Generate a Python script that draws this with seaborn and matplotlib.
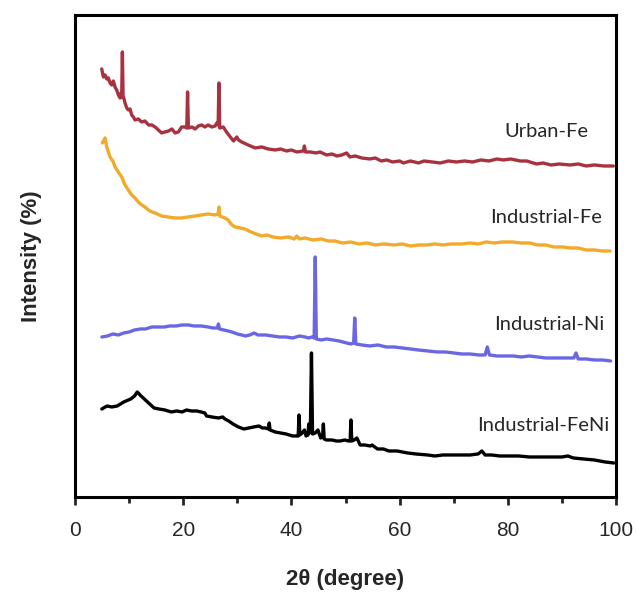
import seaborn as sns
import matplotlib.pyplot as plt

# XRD patterns, intensity in arbitrary offset units
x_urban_fe = [4.93, 5.24, 5.55, 5.85, 6.16, 6.47, 6.78, 7.08, 7.39, 7.70, 8.01, 8.32, 8.5, 8.62, 8.75, 8.88, 9.0,
              9.24, 9.55, 9.86, 10.17, 10.47, 10.78, 11.09, 11.7, 12.3, 12.9, 13.6, 14.2, 14.8, 15.4,
              16.0, 16.6, 17.3, 17.9, 18.5, 19.1, 19.7, 20.3, 20.65, 20.8, 20.95, 21.6, 22.2, 22.8, 23.4, 24.0,
              24.6, 25.3, 25.9, 26.2, 26.45, 26.6, 26.75, 27.4, 28.0, 28.7, 29.3, 29.9, 30.2, 30.8, 32.0, 33.3,
              34.5, 35.7, 37.0, 38.0, 39.1, 40.0, 41.0, 42.2, 42.4, 42.6, 43.5, 44.5, 45.3, 46.5, 47.5, 48.4,
              49.3, 50.2, 50.8, 51.8, 53.0, 54.5, 55.5, 56.6, 57.6, 58.7, 60.0, 60.7, 62.0, 63.5, 64.5, 66.0,
              67.5, 69.0, 70.5, 72.0, 73.5, 75.0, 76.5, 78.0, 79.2, 80.5, 82.3, 83.5, 85.3, 86.5, 88.0, 89.5,
              91.5, 93.0, 94.5, 96.0, 97.7, 99.5]
y_urban_fe = [428, 420, 422, 418, 419, 414, 412, 416, 410, 407, 402, 399, 404, 400, 445, 400, 399,
              394, 389, 387, 388, 382, 380, 377, 378, 375, 376, 372, 372, 370, 367,
              364, 365, 366, 368, 364, 365, 370, 370, 369, 405, 369, 370, 368, 371, 372, 370,
              372, 370, 371, 374, 372, 414, 369, 370, 365, 360, 356, 360, 357, 355, 352, 349,
              350, 348, 347, 348, 346, 347, 345, 346, 351, 345, 345, 344, 345, 342, 343, 341,
              342, 344, 340, 341, 339, 338, 339, 336, 337, 335, 336, 334, 336, 334, 336, 335,
              334, 336, 335, 336, 335, 337, 336, 338, 337, 338, 336, 336, 333, 334, 332, 333,
              332, 333, 331, 332, 331, 331]

x_industrial_fe = [5.05, 5.55, 5.86, 6.47, 7.08, 7.39, 8.0, 8.63, 9.24, 9.85, 10.48, 11.09, 11.7, 12.33,
                   12.94, 13.55, 14.18, 14.79, 16.0, 17.2, 18.5, 19.7, 20.9, 22.2, 23.4, 24.6, 25.9,
                   26.45, 26.6, 26.75, 27.7, 28.3, 29.0, 29.6, 31.4, 32.5, 33.5, 34.5, 35.5, 36.5, 38.0,
                   39.5, 40.5, 41.0, 41.5, 42.5, 44.0, 45.5, 46.8, 48.0, 49.5, 51.0, 52.5, 54.0, 55.5,
                   57.0, 59.1, 60.5, 62.0, 63.5, 65.0, 66.5, 68.0, 69.5, 71.5, 73.0, 74.5, 76.0, 77.5,
                   79.0, 80.8, 82.5, 84.0, 85.5, 87.0, 88.5, 90.2, 91.5, 93.0, 94.5, 96.0, 97.5, 98.9]
y_industrial_fe = [354, 359, 350, 340, 335, 330, 325, 320, 312, 307, 302, 299, 295, 292,
                   290, 287, 285, 284, 281, 280, 279, 279, 280, 281, 282, 283, 282,
                   283, 290, 281, 279, 277, 272, 270, 268, 265, 263, 261, 262, 260, 259,
                   260, 258, 261, 258, 259, 257, 258, 256, 256, 254, 255, 253, 254, 252,
                   253, 252, 253, 251, 252, 252, 253, 252, 253, 253, 254, 253, 255, 254,
                   255, 255, 254, 254, 252, 252, 250, 250, 249, 249, 247, 247, 246, 246]

x_industrial_ni = [4.96, 6.0, 7.0, 8.0, 9.0, 10.0, 11.0, 12.1, 13.0, 14.2, 15.3, 16.5, 17.5, 18.7, 19.8,
                   20.9, 22.0, 23.3, 24.6, 25.5, 26.3, 26.5, 26.7, 27.5, 28.3, 29.0, 30.0, 30.8, 31.5,
                   32.3, 33.1, 33.8, 35.2, 36.5, 37.8, 39.0, 40.2, 41.5, 42.5, 43.2, 43.8, 44.2, 44.4,
                   44.6, 45.5, 46.5, 47.7, 48.8, 50.2, 51.0, 51.5, 51.7, 51.9, 53.0, 54.5, 56.0, 57.5,
                   59.0, 60.5, 62.0, 63.5, 65.2, 67.0, 68.5, 70.0, 71.5, 73.0, 74.6, 75.8, 76.2, 76.6,
                   78.0, 79.5, 81.0, 82.5, 84.0, 85.5, 87.0, 88.5, 90.0, 91.4, 92.2, 92.6, 93.0, 94.5,
                   96.0, 97.5, 99.0]
y_industrial_ni = [160, 161, 163, 162, 164, 165, 167, 168, 168, 170, 170, 170, 171, 171, 172,
                   172, 171, 171, 170, 169, 169, 173, 168, 167, 166, 165, 163, 162, 161,
                   162, 164, 162, 162, 161, 160, 160, 159, 161, 160, 159, 160, 159, 240,
                   158, 157, 158, 157, 156, 154, 153, 154, 179, 153, 152, 151, 152, 150,
                   150, 149, 148, 147, 146, 145, 145, 144, 143, 143, 142, 142, 150, 142,
                   141, 141, 141, 140, 141, 140, 139, 139, 139, 139, 139, 144, 138, 138,
                   137, 137, 136]

x_industrial_feni = [4.95, 5.9, 6.8, 7.8, 9.0, 10.3, 11.0, 11.5, 12.2, 12.8, 13.6, 14.6, 15.5, 16.6,
                     17.8, 18.8, 19.8, 20.6, 21.5, 22.5, 23.3, 24.0, 24.3, 25.3, 26.5, 27.3, 27.7,
                     28.4, 29.2, 30.2, 31.2, 32.1, 33.0, 34.0, 34.6, 35.2, 35.75, 35.9, 36.05, 37.0,
                     38.0, 39.0, 40.2, 40.9, 41.25, 41.4, 41.55, 42.0, 42.4, 42.7, 43.05, 43.2, 43.35,
                     43.5, 43.7, 43.9, 44.4, 44.9, 45.4, 45.75, 45.9, 46.05, 46.5, 47.5, 48.3, 49.0,
                     49.9, 50.5, 50.85, 51.0, 51.15, 51.6, 52.1, 52.7, 53.5, 54.6, 54.9, 55.9, 57.0,
                     58.0, 59.5, 61.5, 63.0, 65.2, 66.5, 68.0, 70.0, 71.5, 73.0, 74.5, 75.2, 75.8,
                     77.0, 78.5, 80.0, 82.0, 84.0, 86.0, 88.0, 90.0, 91.1, 92.1, 94.0, 96.0, 98.0, 99.6]
y_industrial_feni = [88, 91, 90, 91, 95, 98, 101, 105, 101, 98, 94, 89, 88, 87,
                     85, 86, 85, 87, 86, 86, 85, 84, 81, 80, 79, 80, 78,
                     76, 73, 70, 68, 69, 70, 71, 69, 69, 68, 74, 67, 65,
                     64, 63, 61, 61, 61, 82, 62, 64, 67, 61, 62, 73, 64,
                     66, 144, 63, 64, 67, 59, 60, 73, 58, 57, 57, 56, 56,
                     57, 56, 56, 77, 56, 57, 59, 52, 52, 51, 52, 48, 48,
                     46, 46, 44, 43, 42, 41, 42, 42, 42, 42, 43, 46, 42,
                     42, 41, 41, 41, 40, 40, 40, 40, 41, 39, 38, 37, 35, 34]

series = [
    ("Urban-Fe", x_urban_fe, y_urban_fe, "#a8323f", (87.1, 365)),
    ("Industrial-Fe", x_industrial_fe, y_industrial_fe, "#f1aa2a", (87.0, 279)),
    ("Industrial-Ni", x_industrial_ni, y_industrial_ni, "#6a67e2", (87.6, 172)),
    ("Industrial-FeNi", x_industrial_feni, y_industrial_feni, "#000000", (86.5, 71)),
]

sns.set_style("ticks")
plt.rcParams['font.family'] = ['Liberation Sans', 'DejaVu Sans']

fig = plt.figure(figsize=(6.36, 5.92), dpi=100)
ax = fig.add_axes([0.118, 0.1605, 0.8506, 0.8142])

for name, xs, ys, col, (tx, ty) in series:
    sns.lineplot(x=xs, y=ys, color=col, linewidth=2.4, ax=ax)
    ax.text(tx, ty, name, ha='center', va='center', fontsize=14.5, family='Lato')

ax.set_xlim(0, 100)
ax.set_ylim(0, 482)
ax.set_xticks(range(0, 101, 20))
ax.set_xticks(range(10, 100, 20), minor=True)
ax.set_yticks([])
ax.tick_params(axis='x', which='major', length=6, width=2, labelsize=15, direction='out', pad=11)
ax.tick_params(axis='x', which='minor', length=4, width=2, direction='out')
for s in ax.spines.values():
    s.set_linewidth(2.2)
    s.set_color('black')

ax.set_xlabel("2θ (degree)", fontsize=16, fontweight='bold', labelpad=21)
ax.set_ylabel("Intensity (%)", fontsize=16, fontweight='bold', labelpad=24)

fig.savefig("out.png", dpi=100)
